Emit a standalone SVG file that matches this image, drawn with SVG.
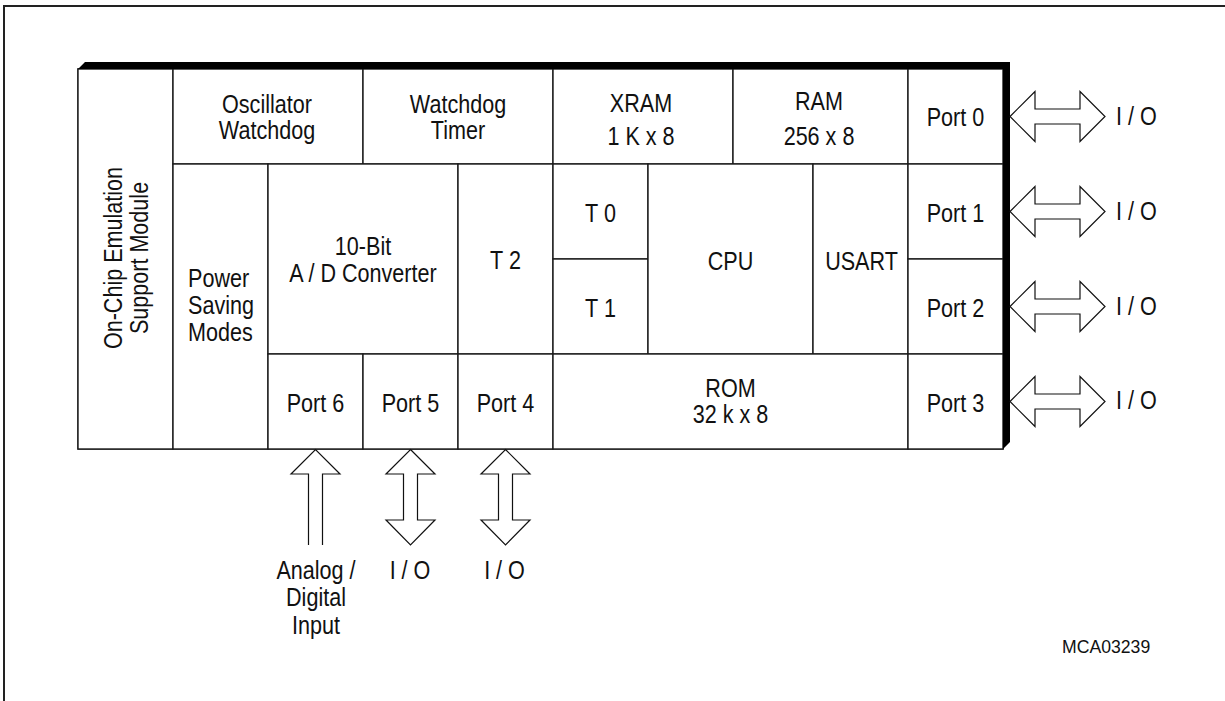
<svg xmlns="http://www.w3.org/2000/svg" width="1225" height="701" viewBox="0 0 1225 701">
<style>
.cell{fill:#fff;stroke:#1a1a1a;stroke-width:1.4}
.t{font-family:"Liberation Sans",Arial,sans-serif;font-size:26px;fill:#111;text-anchor:middle}
.tl{font-family:"Liberation Sans",Arial,sans-serif;font-size:26px;fill:#111;text-anchor:start}
.arr{fill:#fff;stroke:#111;stroke-width:1.2;stroke-linejoin:miter}
</style>
<rect width="1225" height="701" fill="#fff"/>
<path d="M4,701 V6 H1225" fill="none" stroke="#222" stroke-width="2"/>
<g id="chip">
<rect x="78" y="69" width="925" height="380" fill="#fff" stroke="#1a1a1a" stroke-width="1.4"/>
</g>
<g id="emulation">
<rect class="cell" x="78" y="69" width="95" height="380"/>
<text class="t" transform="translate(121.5,258) rotate(-90) scale(0.83,1)"><tspan x="0" y="0">On-Chip Emulation</tspan><tspan x="0" dy="26.5">Support Module</tspan></text>
</g>
<g id="osc-watchdog">
<rect class="cell" x="173" y="69" width="190" height="95"/>
<text class="t" transform="translate(267,113) scale(0.83,1)"><tspan x="0" y="0">Oscillator</tspan><tspan x="0" dy="26.5">Watchdog</tspan></text>
</g>
<g id="watchdog-timer">
<rect class="cell" x="363" y="69" width="190" height="95"/>
<text class="t" transform="translate(458,113) scale(0.83,1)"><tspan x="0" y="0">Watchdog</tspan><tspan x="0" dy="26.5">Timer</tspan></text>
</g>
<g id="xram">
<rect class="cell" x="553" y="69" width="180" height="95"/>
<text class="t" transform="translate(641,112) scale(0.83,1)"><tspan x="0" y="0">XRAM</tspan><tspan x="0" dy="33">1 K x 8</tspan></text>
</g>
<g id="ram">
<rect class="cell" x="733" y="69" width="175" height="95"/>
<text class="t" transform="translate(819,110) scale(0.83,1)"><tspan x="0" y="0">RAM</tspan><tspan x="0" dy="35">256 x 8</tspan></text>
</g>
<g id="port0">
<rect class="cell" x="908" y="69" width="95" height="95"/>
<text class="t" transform="translate(955.5,126) scale(0.83,1)">Port 0</text>
</g>
<g id="power-saving">
<rect class="cell" x="173" y="164" width="95" height="285"/>
<text class="tl" transform="translate(188,287) scale(0.83,1)"><tspan x="0" y="0">Power</tspan><tspan x="0" dy="27">Saving</tspan><tspan x="0" dy="27">Modes</tspan></text>
</g>
<g id="adc">
<rect class="cell" x="268" y="164" width="190" height="190"/>
<text class="t" transform="translate(363,255) scale(0.83,1)"><tspan x="0" y="0">10-Bit</tspan><tspan x="0" dy="27.5">A / D Converter</tspan></text>
</g>
<g id="t2">
<rect class="cell" x="458" y="164" width="95" height="190"/>
<text class="t" transform="translate(505.5,269) scale(0.83,1)">T 2</text>
</g>
<g id="t0">
<rect class="cell" x="553" y="164" width="95" height="95"/>
<text class="t" transform="translate(600.5,221.5) scale(0.83,1)">T 0</text>
</g>
<g id="t1">
<rect class="cell" x="553" y="259" width="95" height="95"/>
<text class="t" transform="translate(600.5,316.5) scale(0.83,1)">T 1</text>
</g>
<g id="cpu">
<rect class="cell" x="648" y="164" width="165" height="190"/>
<text class="t" transform="translate(730.5,270) scale(0.83,1)">CPU</text>
</g>
<g id="usart">
<rect class="cell" x="813" y="164" width="95" height="190"/>
<text class="t" transform="translate(861.5,270) scale(0.83,1)">USART</text>
</g>
<g id="port1">
<rect class="cell" x="908" y="164" width="95" height="95"/>
<text class="t" transform="translate(955.5,221.5) scale(0.83,1)">Port 1</text>
</g>
<g id="port2">
<rect class="cell" x="908" y="259" width="95" height="95"/>
<text class="t" transform="translate(955.5,316.5) scale(0.83,1)">Port 2</text>
</g>
<g id="port6">
<rect class="cell" x="268" y="354" width="95" height="95"/>
<text class="t" transform="translate(315.5,411.5) scale(0.83,1)">Port 6</text>
</g>
<g id="port5">
<rect class="cell" x="363" y="354" width="95" height="95"/>
<text class="t" transform="translate(410.5,411.5) scale(0.83,1)">Port 5</text>
</g>
<g id="port4">
<rect class="cell" x="458" y="354" width="95" height="95"/>
<text class="t" transform="translate(505.5,411.5) scale(0.83,1)">Port 4</text>
</g>
<g id="rom">
<rect class="cell" x="553" y="354" width="355" height="95"/>
<text class="t" transform="translate(730.5,396.5) scale(0.83,1)"><tspan x="0" y="0">ROM</tspan><tspan x="0" dy="27">32 k x 8</tspan></text>
</g>
<g id="port3">
<rect class="cell" x="908" y="354" width="95" height="95"/>
<text class="t" transform="translate(955.5,411.5) scale(0.83,1)">Port 3</text>
</g>
<g id="chip-edge">
<polygon points="78,69 85,62 1010,62 1010,442 1003,449 1003,69" fill="#000"/>
</g>
<g id="connectors">
<polygon class="arr" points="1010,116.5 1035,91.5 1035,109 1080,109 1080,91.5 1105,116.5 1080,141.5 1080,124 1035,124 1035,141.5"/>
<polygon class="arr" points="1010,211.5 1035,186.5 1035,204 1080,204 1080,186.5 1105,211.5 1080,236.5 1080,219 1035,219 1035,236.5"/>
<polygon class="arr" points="1010,306.5 1035,281.5 1035,299 1080,299 1080,281.5 1105,306.5 1080,331.5 1080,314 1035,314 1035,331.5"/>
<polygon class="arr" points="1010,401.5 1035,376.5 1035,394 1080,394 1080,376.5 1105,401.5 1080,426.5 1080,409 1035,409 1035,426.5"/>
<polyline class="arr" points="308.5,545 308.5,474 291,474 315.5,449.5 340,474 322.5,474 322.5,545"/>
<polygon class="arr" points="410.5,449.5 435,474 417.5,474 417.5,520 435,520 410.5,545 386,520 403.5,520 403.5,474 386,474"/>
<polygon class="arr" points="505.5,449.5 530,474 512.5,474 512.5,520 530,520 505.5,545 481,520 498.5,520 498.5,474 481,474"/>
</g>
<g id="labels">
<text class="tl" transform="translate(1116,125) scale(0.83,1)">I / O</text>
<text class="tl" transform="translate(1116,220) scale(0.83,1)">I / O</text>
<text class="tl" transform="translate(1116,315) scale(0.83,1)">I / O</text>
<text class="tl" transform="translate(1116,409) scale(0.83,1)">I / O</text>
<text class="t" transform="translate(316,578.5) scale(0.83,1)"><tspan x="0" y="0">Analog /</tspan><tspan x="0" dy="28">Digital</tspan><tspan x="0" dy="28">Input</tspan></text>
<text class="t" transform="translate(410,578.5) scale(0.83,1)">I / O</text>
<text class="t" transform="translate(504.5,578.5) scale(0.83,1)">I / O</text>
<text class="tl" transform="translate(1062,653) scale(0.98,1)" style="font-size:18px">MCA03239</text>
</g>
</svg>
